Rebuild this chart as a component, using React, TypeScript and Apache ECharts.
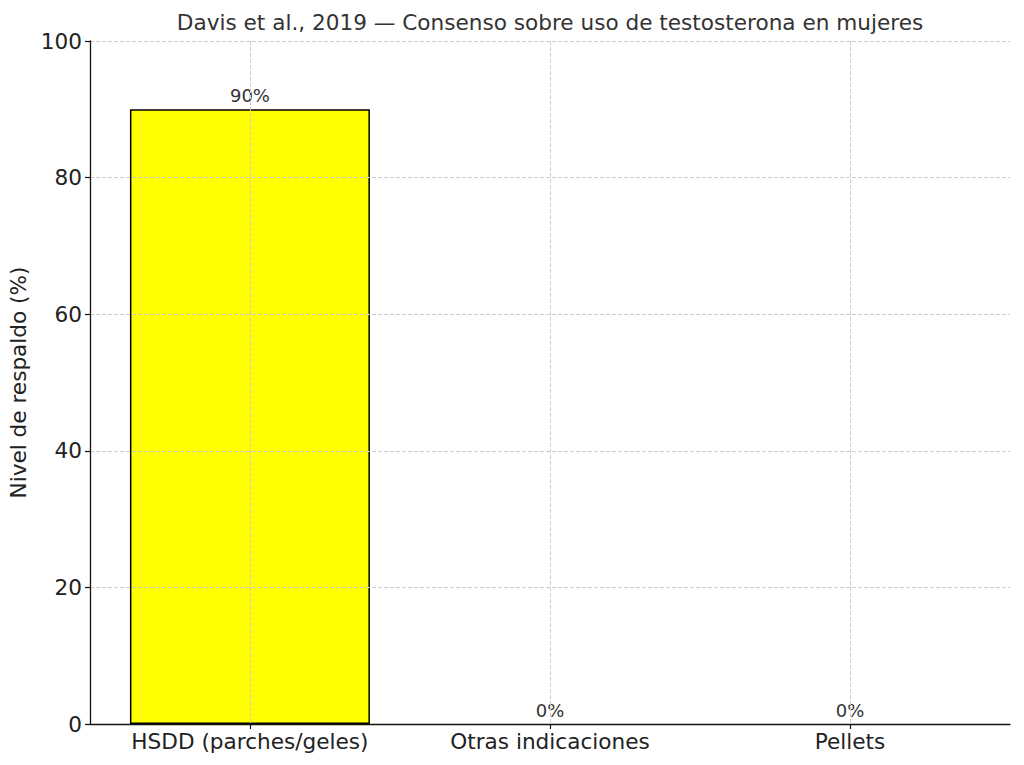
import React, { useEffect, useRef } from "react";
import * as echarts from "echarts";

const categories = ["HSDD (parches/geles)", "Otras indicaciones", "Pellets"];
const support = [90, 0, 0];
const yTicks = [0, 20, 40, 60, 80, 100];

const FONT = "DejaVu Sans";

export default function App() {
  const chartRef = useRef<HTMLDivElement>(null);

  useEffect(() => {
    if (!chartRef.current) return;
    document.body.style.margin = "0";
    const chart = echarts.init(chartRef.current, null, { renderer: "svg" });

    const positions = categories.map((_, i) => i);

    chart.setOption({
      animation: false,
      textStyle: { fontFamily: FONT },
      graphic: [
        {
          type: "text",
          x: 550,
          y: 22,
          style: {
            text: "Davis et al., 2019 — Consenso sobre uso de testosterona en mujeres",
            fontFamily: FONT,
            fontSize: 21.6,
            fill: "#333",
            align: "center",
            verticalAlign: "middle",
          },
        },
      ],
      grid: {
        left: 90,
        right: 14,
        top: 41,
        bottom: 41,
        containLabel: false,
        outerBoundsMode: "none",
      },
      xAxis: {
        type: "value",
        min: -0.533,
        max: 2.533,
        z: 3,
        axisLine: { show: true, onZero: false, lineStyle: { color: "#111", width: 1.3 } },
        axisTick: {
          show: true,
          customValues: positions,
          length: 5,
          lineStyle: { color: "#111", width: 1.2 },
        },
        axisLabel: {
          customValues: positions,
          formatter: (v: number) => categories[Math.round(v)] ?? "",
          color: "#222",
          fontSize: 21.6,
          fontFamily: FONT,
          margin: 6,
        },
        splitLine: {
          show: true,
          lineStyle: { color: "#ccc", type: "dashed", width: 1 },
        },
      },
      yAxis: {
        type: "value",
        min: 0,
        max: 100,
        interval: 20,
        z: 3,
        name: "Nivel de respaldo (%)",
        nameLocation: "middle",
        nameGap: 58,
        nameRotate: 90,
        nameTextStyle: { color: "#222", fontSize: 21.6, fontFamily: FONT },
        axisLine: { show: true, onZero: false, lineStyle: { color: "#111", width: 1.3 } },
        axisTick: { show: true, length: 5, lineStyle: { color: "#111", width: 1.2 } },
        axisLabel: {
          color: "#222",
          fontSize: 21.6,
          fontFamily: FONT,
          margin: 8,
          formatter: (v: number) => (yTicks.includes(v) ? String(v) : ""),
        },
        splitLine: {
          show: true,
          lineStyle: { color: "#ccc", type: "dashed", width: 1 },
        },
      },
      series: [
        {
          type: "bar",
          z: 1,
          barWidth: 240,
          data: support.map((v, i) => ({
            value: [i, v],
            itemStyle: v === 0 ? { borderWidth: 0 } : undefined,
          })),
          itemStyle: { color: "#ffff00", borderColor: "#000", borderWidth: 1.5 },
          label: {
            show: true,
            position: "top",
            distance: 5,
            formatter: (p: any) => `${p.value[1]}%`,
            color: "#333",
            fontSize: 18,
            fontFamily: FONT,
          },
        },
      ],
    });

    return () => {
      chart.dispose();
    };
  }, []);

  return (
    <div
      ref={chartRef}
      style={{ position: "absolute", left: 0, top: 0, width: "1024px", height: "765px" }}
    />
  );
}
